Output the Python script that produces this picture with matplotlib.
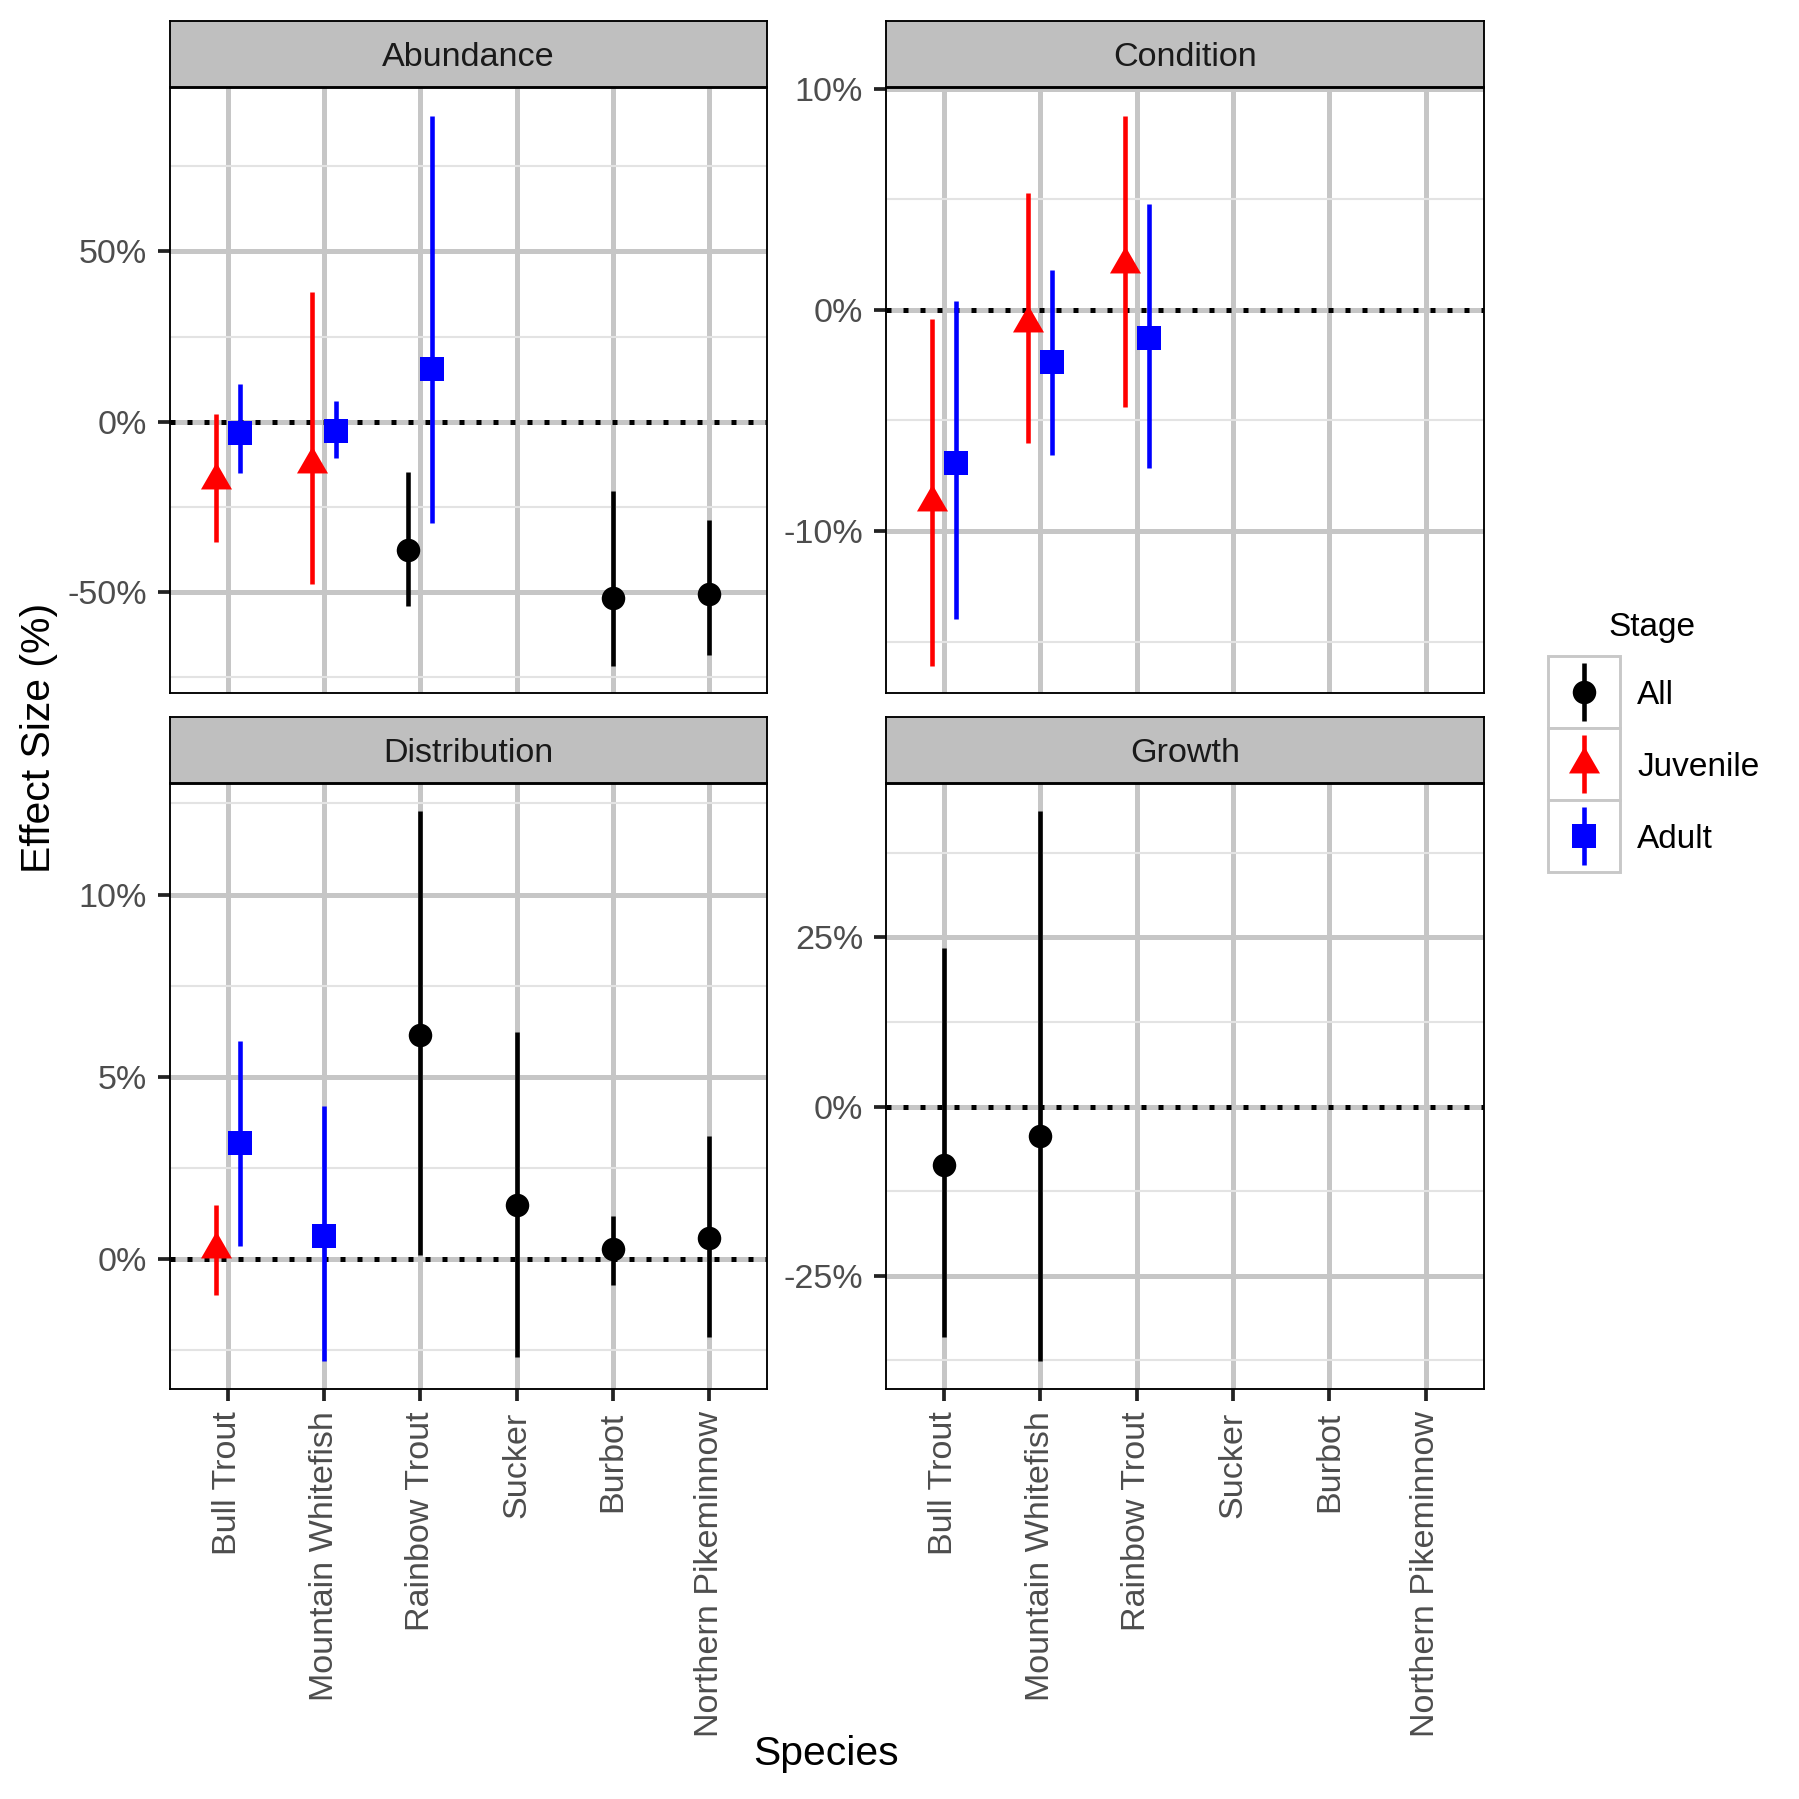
import numpy as np
import matplotlib
matplotlib.use("Agg")
import matplotlib.pyplot as plt
from matplotlib.patches import Rectangle
from matplotlib.path import Path
from matplotlib.ticker import MultipleLocator, FuncFormatter

plt.rcParams['font.family'] = ['Liberation Sans', 'DejaVu Sans']

species = ["Bull Trout", "Mountain Whitefish", "Rainbow Trout", "Sucker", "Burbot", "Northern Pikeminnow"]
stages = ["All", "Juvenile", "Adult"]

# Abundance
abundance_species = ["Bull Trout", "Bull Trout", "Mountain Whitefish", "Mountain Whitefish",
                     "Rainbow Trout", "Rainbow Trout", "Burbot", "Northern Pikeminnow"]
abundance_stage = ["Juvenile", "Adult", "Juvenile", "Adult", "All", "Adult", "All", "All"]
abundance_est = [-17.0, -3.3, -12.4, -2.7, -37.6, 15.5, -51.7, -50.4]
abundance_lo = [-35.4, -15.0, -47.7, -10.7, -53.9, -29.6, -71.5, -68.5]
abundance_hi = [2.4, 11.1, 38.1, 6.1, -14.8, 89.7, -20.2, -28.7]

# Condition
condition_species = ["Bull Trout", "Bull Trout", "Mountain Whitefish", "Mountain Whitefish",
                     "Rainbow Trout", "Rainbow Trout"]
condition_stage = ["Juvenile", "Adult", "Juvenile", "Adult", "Juvenile", "Adult"]
condition_est = [-8.67, -6.90, -0.57, -2.35, 2.09, -1.29]
condition_lo = [-16.08, -13.96, -6.02, -6.58, -4.41, -7.14]
condition_hi = [-0.40, 0.42, 5.29, 1.79, 8.77, 4.81]

# Distribution
distribution_species = ["Bull Trout", "Bull Trout", "Mountain Whitefish", "Rainbow Trout",
                        "Sucker", "Burbot", "Northern Pikeminnow"]
distribution_stage = ["Juvenile", "Adult", "Adult", "All", "All", "All", "All"]
distribution_est = [0.27, 3.18, 0.65, 6.16, 1.48, 0.28, 0.59]
distribution_lo = [-0.98, 0.37, -2.79, 0.13, -2.67, -0.71, -2.12]
distribution_hi = [1.50, 5.98, 4.20, 12.28, 6.22, 1.20, 3.37]

# Growth
growth_species = ["Bull Trout", "Mountain Whitefish"]
growth_stage = ["All", "All"]
growth_est = [-8.68, -4.41]
growth_lo = [-34.1, -37.6]
growth_hi = [23.4, 43.6]

panels = [
    ("Abundance", abundance_species, abundance_stage, abundance_est, abundance_lo, abundance_hi, 50),
    ("Condition", condition_species, condition_stage, condition_est, condition_lo, condition_hi, 10),
    ("Distribution", distribution_species, distribution_stage, distribution_est, distribution_lo, distribution_hi, 5),
    ("Growth", growth_species, growth_stage, growth_est, growth_lo, growth_hi, 25),
]

colors = {"All": "black", "Juvenile": "#FF0000", "Adult": "#0000FF"}

# R-style filled triangle, centred on its centroid
tri = Path([(0, 1.5551), (-1.3468, -0.7776), (1.3468, -0.7776), (0, 1.5551)],
           [Path.MOVETO, Path.LINETO, Path.LINETO, Path.CLOSEPOLY])
markers = {"All": ("o", 5.64), "Juvenile": (tri, 8.6), "Adult": ("s", 5.76)}

W = H = 1799
fig = plt.figure(figsize=(W / 300, H / 300), dpi=300)


def rect(x0, y0, x1, y1):
    return [x0 / W, 1 - y1 / H, (x1 - x0) / W, (y1 - y0) / H]


def label(x, y, s, size, **kw):
    # y is the vertical centre of the capitals, in pixels from the top
    cap = 0.716 * size * 300 / 72
    fig.text(x / W, 1 - (y + cap / 2) / H, s, va='baseline', fontsize=size, **kw)


cols = [(170, 767), (886, 1483.5)]
rows = [(21, 87, 88.5, 693), (716.5, 782.5, 784, 1388.5)]

for i, (name, sp, st, est, lo, hi, step) in enumerate(panels):
    x0, x1 = cols[i % 2]
    s0, s1, p0, p1 = rows[i // 2]

    ax = fig.add_axes(rect(x0, p0, x1, p1))
    ax.set_axisbelow(True)

    # dodge the stages that are present for each species
    for j, name_sp in enumerate(species):
        idx = [k for k in range(len(sp)) if sp[k] == name_sp]
        idx.sort(key=lambda k: stages.index(st[k]))
        n = len(idx)
        for m, k in enumerate(idx):
            x = j + (m - (n - 1) / 2) * 0.25
            c = colors[st[k]]
            mk, ms = markers[st[k]]
            ax.vlines(x, lo[k], hi[k], color=c, lw=1.1, zorder=3)
            ax.plot([x], [est[k]], marker=mk, ms=ms, color=c, mew=0, ls='none', zorder=4)

    ax.axhline(0, color='black', lw=1.2, dashes=(1, 2.4), zorder=2.5)
    ax.set_xlim(-0.6, len(species) - 0.4)
    ax.margins(y=0.05)

    ax.yaxis.set_major_locator(MultipleLocator(step))
    ax.yaxis.set_minor_locator(MultipleLocator(step / 2))
    ax.yaxis.set_major_formatter(FuncFormatter(lambda v, p: f"{v:g}%"))
    ax.set_xticks(range(len(species)))

    ax.grid(which='major', color='#C6C6C6', lw=1.2)
    ax.grid(which='minor', axis='y', color='#E3E3E3', lw=0.5)

    for s in ax.spines.values():
        s.set_color('black')
        s.set_linewidth(0.45)

    ax.tick_params(axis='y', which='major', length=2.9, width=0.9, color='#222222',
                   pad=2.6, labelsize=8.2, labelcolor='#4D4D4D')
    ax.tick_params(axis='y', which='minor', length=0)
    if i // 2 == 0:
        ax.tick_params(axis='x', length=0, labelbottom=False)
    else:
        ax.set_xticklabels(species, rotation=90, ha='center', va='top')
        ax.tick_params(axis='x', length=2.9, width=0.9, color='#222222',
                       pad=2.6, labelsize=8.2, labelcolor='#4D4D4D')

    # facet strip
    sax = fig.add_axes(rect(x0, s0, x1, s1))
    sax.set_facecolor('#BFBFBF')
    sax.set_xticks([])
    sax.set_yticks([])
    for s in sax.spines.values():
        s.set_color('black')
        s.set_linewidth(0.45)
    label((x0 + x1) / 2, (s0 + s1) / 2, name, 8.2, ha='center', color='#1A1A1A')

fig.text(39.5 / W, 1 - 738 / H, "Effect Size (%)", rotation=90, ha='center', va='center',
         fontsize=9.8, color='black')
label(826, 1750, "Species", 9.8, ha='center', color='black')

# legend
label(1652, 624, "Stage", 8.0, ha='center', color='black')
lax = fig.add_axes(rect(1548, 656, 1620, 872))
lax.set_xlim(0, 1)
lax.set_ylim(3, 0)
lax.axis('off')
for k, stg in enumerate(stages):
    lax.add_patch(Rectangle((0, k), 1, 1, facecolor='white', edgecolor='#C8C8C8',
                            lw=0.7, clip_on=False))
    c = colors[stg]
    mk, ms = markers[stg]
    lax.plot([0.5, 0.5], [k + 0.1, k + 0.9], color=c, lw=1.1, solid_capstyle='butt', clip_on=False)
    lax.plot([0.5], [k + 0.5], marker=mk, ms=ms, color=c, mew=0, ls='none', clip_on=False)
    label(1637, 656 + 72 * k + 36, stg, 8.0, ha='left', color='black')

fig.savefig("out.png", dpi=300, facecolor='white')
